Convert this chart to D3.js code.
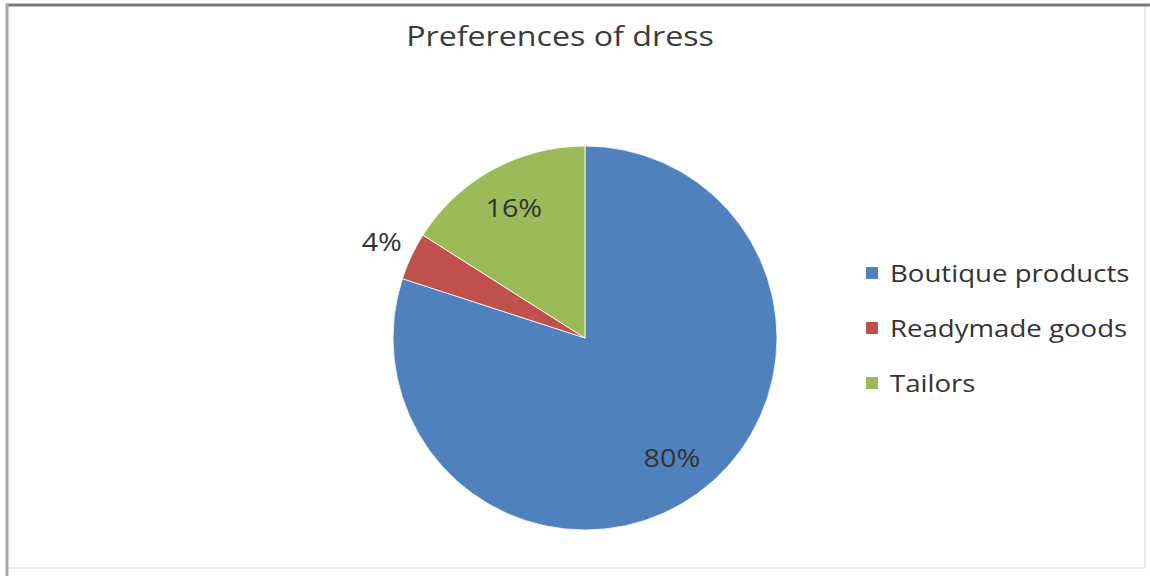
<!DOCTYPE html>
<html>
<head>
<meta charset="utf-8">
<script src="https://cdn.jsdelivr.net/npm/d3@7"></script>
<style>
  html, body { margin: 0; padding: 0; background: #fff; }
  svg { display: block; }
  text { font-family: "Open Sans", Lato, sans-serif; }
</style>
</head>
<body>
<svg id="chart" width="1150" height="576"></svg>
<script>
// Survey shares for dress preference
const categories = ["Boutique products", "Readymade goods", "Tailors"];
const shares = [80, 4, 16];
const sliceLabels = ["80%", "4%", "16%"];
const colors = ["#4F81BD", "#C0504D", "#9BBB59"];
const chartTitle = "Preferences of dress";

const svg = d3.select("#chart");
const W = 1150, H = 576;
const stretch = 1.15; // wide type, as in the original chart

// Frame with darker top/left edges
svg.append("rect").attr("x", 7).attr("y", 5).attr("width", 1138).attr("height", 563)
  .attr("fill", "#fff").attr("stroke", "#e6e6e6").attr("stroke-width", 1.5);
svg.append("line").attr("x1", 6).attr("x2", W).attr("y1", 5).attr("y2", 5)
  .attr("stroke", "#7a7a7a").attr("stroke-width", 3);
svg.append("line").attr("x1", 7).attr("x2", 7).attr("y1", 4).attr("y2", 576)
  .attr("stroke", "#a8a8a8").attr("stroke-width", 3);

// Title
svg.append("text")
  .attr("transform", `translate(560,46) scale(${stretch},1)`)
  .attr("text-anchor", "middle").attr("font-size", 28).attr("fill", "#3a3a3a")
  .text(chartTitle);

// Pie
const cx = 585, cy = 338, r = 192;
const pie = d3.pie().sort(null).value(d => d.value);
const data = categories.map((c, i) => ({ name: c, value: shares[i], label: sliceLabels[i], color: colors[i] }));
const arcs = pie(data);
const arc = d3.arc().innerRadius(0).outerRadius(r);
const g = svg.append("g").attr("transform", `translate(${cx},${cy})`);

g.selectAll("path").data(arcs).join("path")
  .attr("d", arc)
  .attr("fill", d => d.data.color)
  .attr("stroke", "#fff").attr("stroke-width", 0.8);

// Data labels: inside for big slices, outside for the small one
const inner = d3.arc().innerRadius(r * 0.77).outerRadius(r * 0.77);
const outer = d3.arc().innerRadius(r * 1.17).outerRadius(r * 1.17);
g.selectAll("text.lbl").data(arcs).join("text")
  .attr("class", "lbl")
  .attr("transform", d => {
    const p = (d.data.value < 10 ? outer : inner).centroid(d);
    return `translate(${p[0]},${p[1]}) scale(${stretch},1)`;
  })
  .attr("text-anchor", "middle").attr("dy", "0.36em")
  .attr("font-size", 25).attr("fill", "#333")
  .text(d => d.data.label);

// Legend
const leg = svg.append("g").attr("transform", "translate(866,273)");
const rows = leg.selectAll("g").data(data).join("g")
  .attr("transform", (d, i) => `translate(0,${i * 55})`);
rows.append("rect").attr("x", 0).attr("y", -6).attr("width", 12).attr("height", 12)
  .attr("fill", d => d.color);
rows.append("text")
  .attr("transform", `translate(24,0) scale(${stretch},1)`)
  .attr("dy", "0.36em")
  .attr("font-size", 24).attr("fill", "#333")
  .text(d => d.name);
</script>
</body>
</html>
